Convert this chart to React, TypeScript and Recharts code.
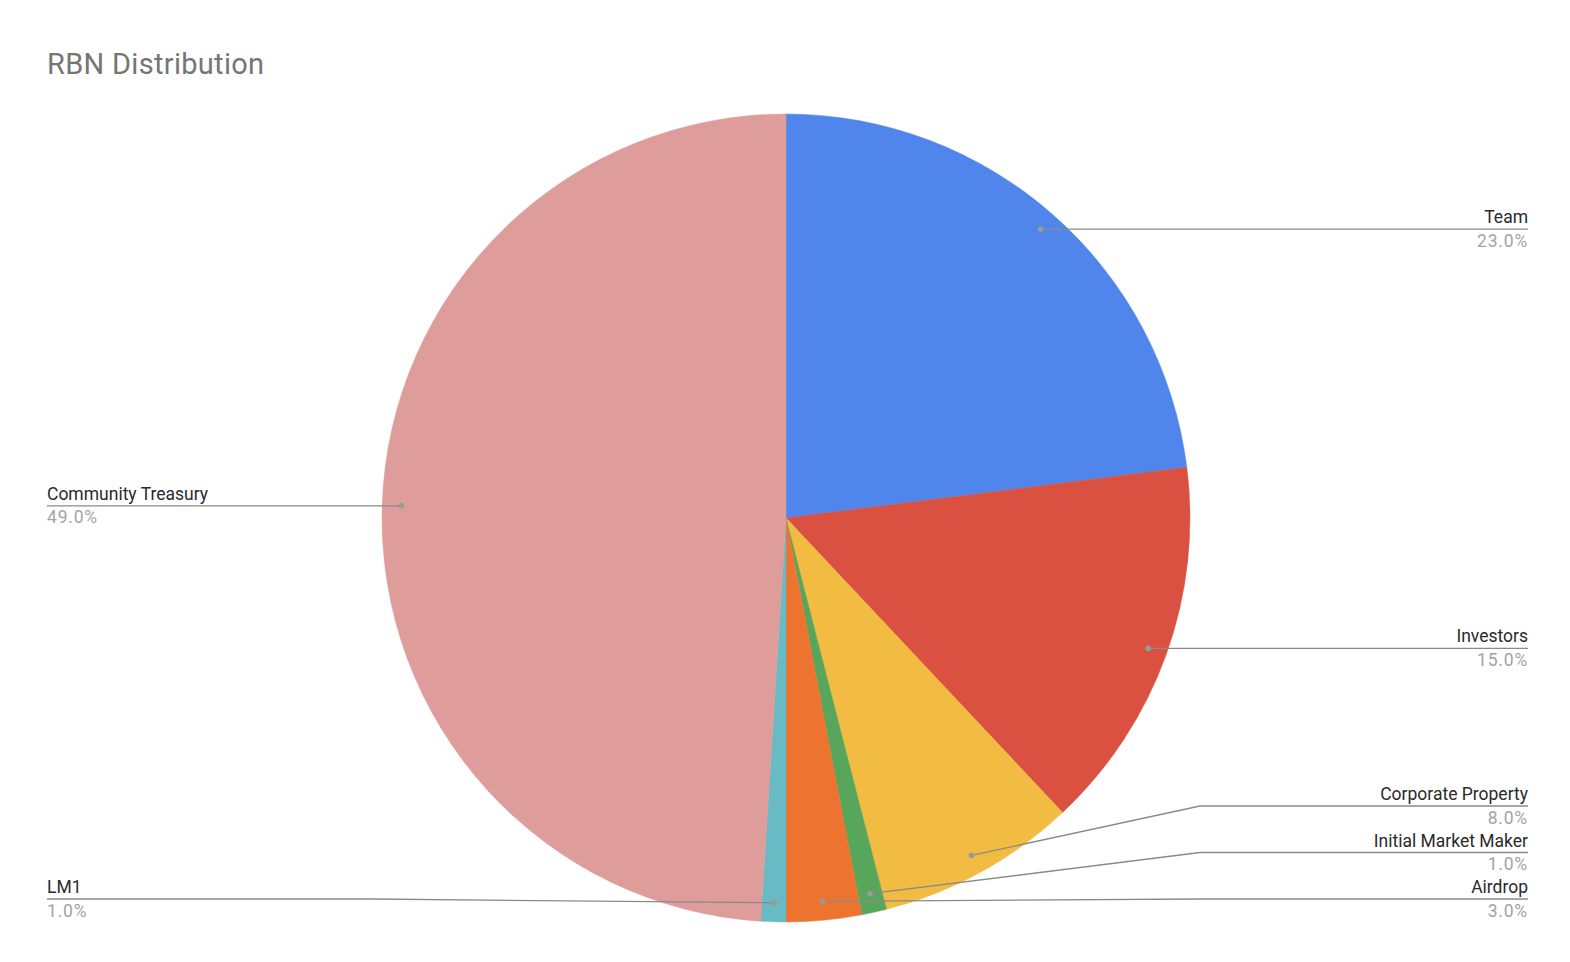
import React from "react";
import { PieChart, Pie, Cell } from "recharts";

const categories = ["Team", "Investors", "Corporate Property", "Initial Market Maker", "Airdrop", "LM1", "Community Treasury"];
const values = [23, 15, 8, 1, 3, 1, 49];
const colors = ["#5085ec", "#db5141", "#f2bc43", "#58a55c", "#ec7430", "#68bbc5", "#de9d9b"];

const data = categories.map((name, i) => ({ name, value: values[i] }));
const total = values.reduce((a, b) => a + b, 0);

const W = 1570;
const H = 962;
const CX = 786;
const CY = 518;
const R = 404;
const DOT_R = 385;
const RIGHT_X = 1528;
const LEFT_X = 47;
const ELBOW_DX = 414;
const GAP = 46.5;
const MAX_Y = 899;
const FONT = "Roboto, Arial, sans-serif";

// label layout (stacking of label rows per side)
const RAD = Math.PI / 180;
type Lab = { i: number; dx: number; dy: number; side: number; ly: number };
const labels: Lab[] = [];
{
  let acc = 0;
  values.forEach((v, i) => {
    const mid = ((acc + v / 2) / total) * 360;
    acc += v;
    const dx = CX + DOT_R * Math.sin(mid * RAD);
    const dy = CY - DOT_R * Math.cos(mid * RAD);
    labels.push({ i, dx, dy, side: dx >= CX ? 1 : -1, ly: dy });
  });
  [1, -1].forEach((side) => {
    const group = labels.filter((l) => l.side === side).sort((a, b) => b.dy - a.dy);
    let prev = Infinity;
    group.forEach((l) => {
      l.ly = Math.min(l.dy, MAX_Y, prev - GAP);
      prev = l.ly;
    });
  });
}

const renderLabel = (props: any) => {
  const { index, cx, cy, midAngle } = props;
  const l = labels[index];
  const dx = cx + DOT_R * Math.cos(-midAngle * RAD);
  const dy = cy + DOT_R * Math.sin(-midAngle * RAD);
  const ex = cx + l.side * ELBOW_DX;
  const tx = l.side === 1 ? RIGHT_X : LEFT_X;
  const anchor = l.side === 1 ? "end" : "start";
  const pts = `${dx},${dy} ${ex},${l.ly} ${tx},${l.ly}`;
  return (
    <g key={`lab-${index}`}>
      <polyline points={pts} fill="none" stroke="#8a8a8a" strokeWidth={1.3} />
      <circle cx={dx} cy={dy} r={2.8} fill="#9a9a9a" />
      <text x={tx} y={l.ly - 6} textAnchor={anchor} fontFamily={FONT} fontSize={17.5} fill="#2a2a2a">
        {categories[index]}
      </text>
      <text
        x={tx}
        y={l.ly + 17.5}
        textAnchor={anchor}
        fontFamily={FONT}
        fontSize={17.5}
        letterSpacing={0.8}
        fill="#a3a3a3"
      >
        {`${((values[index] / total) * 100).toFixed(1)}%`}
      </text>
    </g>
  );
};

export default function App() {
  return (
    <div style={{ position: "absolute", left: 0, top: 0, width: W, height: H, background: "#fff" }}>
      <PieChart width={W} height={H} margin={{ top: 0, right: 0, bottom: 0, left: 0 }}>
        <Pie
          data={data}
          dataKey="value"
          nameKey="name"
          cx={CX}
          cy={CY}
          outerRadius={R}
          innerRadius={0}
          startAngle={90}
          endAngle={-270}
          isAnimationActive={false}
          stroke="none"
          label={renderLabel}
          labelLine={false}
        >
          {data.map((d, i) => (
            <Cell key={d.name} fill={colors[i]} stroke={colors[i]} strokeWidth={0.5} />
          ))}
        </Pie>
      </PieChart>
      <div
        style={{
          position: "absolute",
          left: 47,
          top: 45,
          fontFamily: FONT,
          fontSize: 29,
          letterSpacing: 0.3,
          color: "#757575",
          lineHeight: "38px",
        }}
      >
        RBN Distribution
      </div>
    </div>
  );
}
